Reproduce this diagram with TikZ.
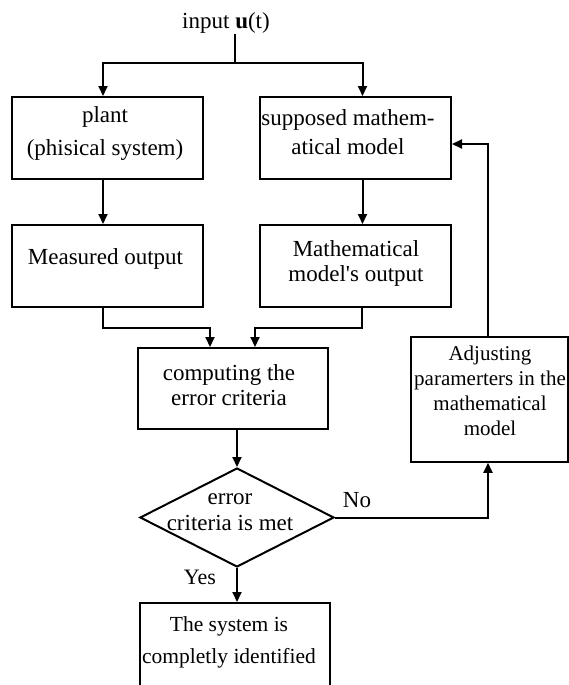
\documentclass[tikz,border=0pt]{standalone}
\usepackage{fontspec}
\setmainfont{Liberation Serif}[Ligatures=TeXOff]
\usetikzlibrary{arrows.meta,shapes.geometric}
\begin{document}
\begin{tikzpicture}[x=1pt,y=-1pt,
  box/.style={draw, line width=2pt, minimum width=191pt, minimum height=82pt, inner sep=0pt},
  txt/.style={align=center, inner sep=0pt, font=\fontsize{23}{26}\selectfont},
  arr/.style={line width=2pt, -{Triangle[length=10pt,width=9pt]}},
  ln/.style={line width=2pt}]
\clip (0,0) rectangle (569,685);
% boxes
\node[box] (plant) at (107.5,138) {};
\node[box] (sup) at (355.5,138) {};
\node[box] (meas) at (107.5,266) {};
\node[box] (mout) at (355.5,266) {};
\node[box, minimum width=190pt, minimum height=81pt] (comp) at (233,388.5) {};
\node[box, line width=1.5pt, minimum width=157pt, minimum height=125pt] (adj) at (489.5,399.5) {};
\node[draw, diamond, line width=2pt, minimum width=194pt, minimum height=99pt, inner sep=0pt] (dia) at (237,517.5) {};
\node[box, minimum width=190pt, minimum height=100pt] (fin) at (235,653) {};
% texts
\node[txt] (input) at (226,23) {input \textbf{u}(t)};
\node[txt, font=\fontsize{23}{33}\selectfont] (plantT) at (105,134) {plant\\(phisical system)};
\node[txt, font=\fontsize{23}{29}\selectfont] (supT) at (348,132) {supposed mathem-\\atical model};
\node[txt] (measT) at (105.5,259) {Measured output};
\node[txt, font=\fontsize{23}{25}\selectfont] (moutT) at (356,263) {Mathematical\\model's output};
\node[txt, font=\fontsize{23}{25}\selectfont] (compT) at (229,385) {computing the\\error criteria};
\node[txt, font=\fontsize{21}{25}\selectfont] (adjT) at (490,391) {Adjusting\\paramerters in the\\mathematical\\model};
\node[txt, font=\fontsize{23}{26}\selectfont] (diaT) at (230,512) {error\\criteria is met};
\node[txt, font=\fontsize{21.5}{32}\selectfont] (finT) at (229,642) {The system is\\completly identified};
\node[txt, font=\fontsize{22}{26}\selectfont] (yes) at (200,577) {Yes};
\node[txt] (no) at (357,500) {No};
% connectors
\coordinate (split) at (235,63);
\draw[arr] (input.south -| split) -- (split) -| ([xshift=-4.5pt]plant.north);
\draw[arr] (split) -| ([xshift=7pt]sup.north);
\draw[arr] ([xshift=-4.5pt]plant.south) -- ([xshift=-4.5pt]meas.north);
\draw[arr] ([xshift=7pt]sup.south) -- ([xshift=7pt]mout.north);
\draw[arr] ([xshift=-4.5pt]meas.south) -- ++(0,20) -| ([xshift=-23pt]comp.north);
\draw[arr] ([xshift=6.5pt]mout.south) -- ++(0,20) -| ([xshift=22pt]comp.north);
\draw[arr] (comp.south -| dia.north) -- (dia.north);
\draw[arr] (dia.south) -- (dia.south |- fin.north);
\draw[arr] (dia.east) -| ([xshift=-1.5pt]adj.south);
\draw[arr] ([xshift=-1.5pt]adj.north) |- ([yshift=-6pt]sup.east);
\end{tikzpicture}
\end{document}
